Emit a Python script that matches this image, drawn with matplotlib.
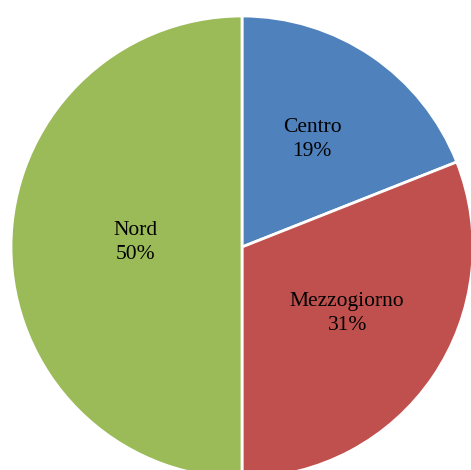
import numpy as np
import matplotlib.pyplot as plt

labels = ['Centro', 'Mezzogiorno', 'Nord']
shares = [19, 31, 50]
colors = ['#4F81BD', '#C0504D', '#9BBB59']
label_dist = [0.54, 0.55, 0.46]

fig = plt.figure(figsize=(4.71, 4.70), dpi=100)
# pie centre near (242, 247) px, radius ~231 px
ax = fig.add_axes([11 / 471, -8 / 470, 462 / 471, 462 / 470])

texts = ['{}\n{}%'.format(l, s) for l, s in zip(labels, shares)]
wedges, lbls = ax.pie(shares, labels=texts, colors=colors, startangle=90,
                      counterclock=False, labeldistance=0.55,
                      wedgeprops={'edgecolor': 'white', 'linewidth': 2.0})
for w, t, d in zip(wedges, lbls, label_dist):
    w.set_clip_on(False)
    ang = np.deg2rad((w.theta1 + w.theta2) / 2)
    t.set_position((d * np.cos(ang), d * np.sin(ang) + 0.02))
    t.set_family('Liberation Serif')
    t.set_fontsize(15.5)
    t.set_ha('center')
    t.set_va('center')
    t.set_multialignment('center')
    t.set_linespacing(1.35)
ax.set_xlim(-1, 1)
ax.set_ylim(-1, 1)
ax.axis('off')

plt.savefig('out.png', dpi=100)
plt.close()
